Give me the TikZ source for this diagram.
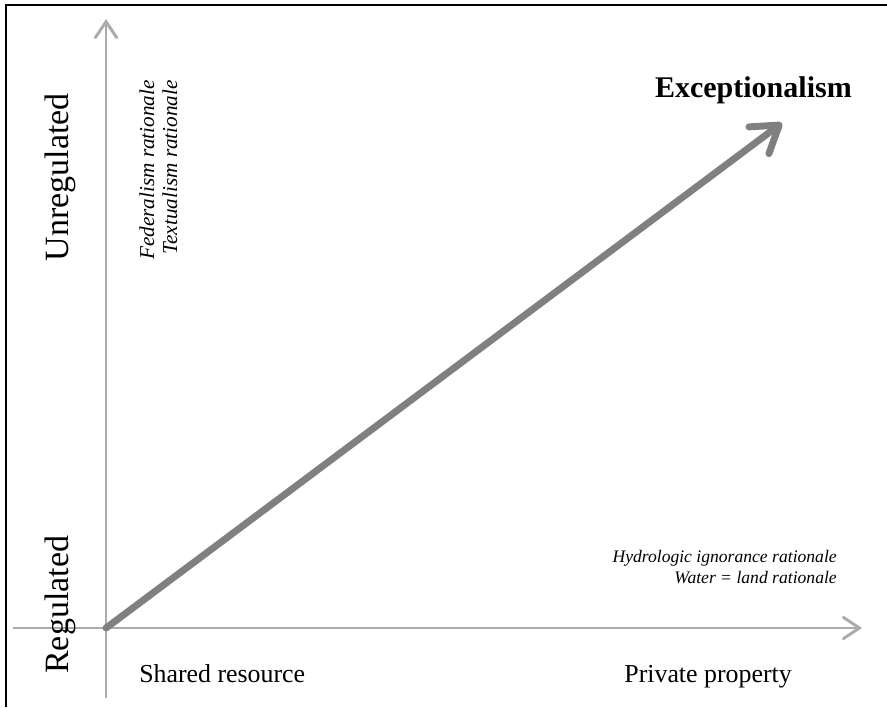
\documentclass[tikz,border=0pt]{standalone}
\usepackage{fontspec}
\setmainfont{Liberation Serif}
\usetikzlibrary{arrows.meta}

\begin{document}
\begin{tikzpicture}[x=0.75pt, y=-0.75pt,
		axis/.style={draw=black!33, line width=2.2pt, -{Straight Barb[length=12pt, width=16pt, line cap=round]}},
		trend/.style={draw=black!50, line width=5.2pt, line cap=round, -{Straight Barb[length=19pt, width=25pt, line cap=round, line join=round]}},
		label/.style={font=\fontsize{19.4}{23}\selectfont, inner sep=0pt},
		side/.style={font=\fontsize{25.5}{30}\selectfont, inner sep=0pt, rotate=90},
		reason/.style={font=\fontsize{13.2}{16}\selectfont\itshape, inner sep=0pt}]
	\useasboundingbox (0,0) rectangle (887,707);
	
	% Frame
	\draw[line width=0.9pt] (6,707) -- (6,5) -- (887,5);
	
	% Axes
	\coordinate (origin) at (106,628);
	\coordinate (xstart) at (13,628);
	\coordinate (xend) at (862,628);
	\coordinate (ybottom) at (106,698);
	\coordinate (ytop) at (106,19);
	\draw[axis] (xstart) -- (xend);
	\draw[axis] (ybottom) -- (ytop);
	
	% Axis labels
	\node[label, anchor=base west] (shared) at (139,682) {Shared resource};
	\node[label, anchor=base east] (private) at (792,682) {Private property};
	\node[side, anchor=base west] (reg) at (68,674) {Regulated};
	\node[side, anchor=base east] (unreg) at (68,93) {Unregulated};
	
	% Rationales
	\node[reason, rotate=90, anchor=base east, font=\fontsize{15.9}{19}\selectfont\itshape] (fed) at (154,80) {Federalism rationale};
	\node[reason, rotate=90, anchor=base east, font=\fontsize{15.9}{19}\selectfont\itshape] (text) at (177,80) {Textualism rationale};
	\node[reason, anchor=base east] (hydro) at (837,562) {Hydrologic ignorance rationale};
	\node[reason, anchor=base east] (water) at (837,583) {Water = land rationale};
	
	% Trend
	\coordinate (tip) at (782,123);
	\draw[trend] (origin) -- (tip);
	\node[font=\fontsize{22.5}{27}\selectfont\bfseries, inner sep=0pt, anchor=base east] (exc) at (852,97) {Exceptionalism};
\end{tikzpicture}
\end{document}
